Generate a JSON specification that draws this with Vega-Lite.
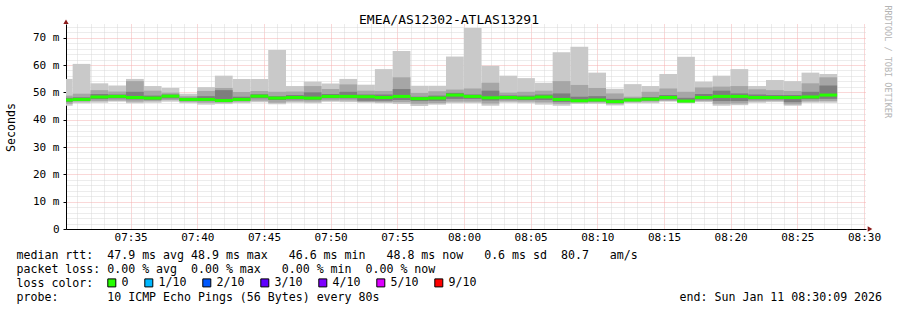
{
  "$schema": "https://vega.github.io/schema/vega-lite/v6.json",
  "width": 800,
  "height": 205,
  "autosize": {"type": "none"},
  "padding": {"left": 66, "top": 24, "right": 31, "bottom": 81},
  "background": "#ffffff",
  "title": {"text": "EMEA/AS12302-ATLAS13291", "font": "DejaVu Sans Mono", "fontSize": 13, "fontWeight": "normal", "color": "#000000", "anchor": "middle", "frame": "group", "dx": -17, "dy": 32, "baseline": "alphabetic", "offset": 0},
  "config": {
    "view": {"stroke": null},
    "axis": {"labelFont": "DejaVu Sans Mono", "labelFontSize": 11, "labelColor": "#000000", "titleFont": "DejaVu Sans Mono", "titleFontWeight": "normal", "titleColor": "#000000", "domainColor": "#000000"}
  },
  "data": {"values": [
    {"t0": "2026-01-11T07:29:19", "t1": "2026-01-11T07:30:39", "tc": "2026-01-11T07:29:59", "mn": 45.1, "lo2": 45.8, "lo3": 46.5, "med": 47.2, "hi3": 48.0, "hi2": 48.8, "mx": 54.9, "loss": "0"},
    {"t0": "2026-01-11T07:30:39", "t1": "2026-01-11T07:31:59", "tc": "2026-01-11T07:31:19", "mn": 46.0, "lo2": 46.6, "lo3": 47.0, "med": 47.4, "hi3": 48.2, "hi2": 49.5, "mx": 60.4, "loss": "0"},
    {"t0": "2026-01-11T07:31:59", "t1": "2026-01-11T07:33:19", "tc": "2026-01-11T07:32:39", "mn": 46.2, "lo2": 46.8, "lo3": 47.5, "med": 48.3, "hi3": 49.4, "hi2": 50.8, "mx": 53.3, "loss": "0"},
    {"t0": "2026-01-11T07:33:19", "t1": "2026-01-11T07:34:39", "tc": "2026-01-11T07:33:59", "mn": 46.6, "lo2": 47.0, "lo3": 47.8, "med": 48.5, "hi3": 49.2, "hi2": 50.3, "mx": 52.5, "loss": "0"},
    {"t0": "2026-01-11T07:34:39", "t1": "2026-01-11T07:35:59", "tc": "2026-01-11T07:35:19", "mn": 46.0, "lo2": 46.6, "lo3": 47.4, "med": 48.1, "hi3": 50.2, "hi2": 54.1, "mx": 54.9, "loss": "0"},
    {"t0": "2026-01-11T07:35:59", "t1": "2026-01-11T07:37:19", "tc": "2026-01-11T07:36:39", "mn": 46.2, "lo2": 46.8, "lo3": 47.3, "med": 47.9, "hi3": 48.8, "hi2": 50.6, "mx": 52.3, "loss": "0"},
    {"t0": "2026-01-11T07:37:19", "t1": "2026-01-11T07:38:39", "tc": "2026-01-11T07:37:59", "mn": 46.6, "lo2": 47.2, "lo3": 47.8, "med": 48.6, "hi3": 49.2, "hi2": 49.9, "mx": 51.6, "loss": "0"},
    {"t0": "2026-01-11T07:38:39", "t1": "2026-01-11T07:39:59", "tc": "2026-01-11T07:39:19", "mn": 46.0, "lo2": 46.5, "lo3": 46.9, "med": 47.4, "hi3": 48.0, "hi2": 48.6, "mx": 49.5, "loss": "0"},
    {"t0": "2026-01-11T07:39:59", "t1": "2026-01-11T07:41:19", "tc": "2026-01-11T07:40:39", "mn": 45.5, "lo2": 46.2, "lo3": 46.8, "med": 47.4, "hi3": 48.6, "hi2": 50.5, "mx": 51.9, "loss": "0"},
    {"t0": "2026-01-11T07:41:19", "t1": "2026-01-11T07:42:39", "tc": "2026-01-11T07:41:59", "mn": 45.7, "lo2": 46.2, "lo3": 46.5, "med": 47.0, "hi3": 50.8, "hi2": 51.6, "mx": 56.1, "loss": "0"},
    {"t0": "2026-01-11T07:42:39", "t1": "2026-01-11T07:43:59", "tc": "2026-01-11T07:43:19", "mn": 46.0, "lo2": 46.6, "lo3": 47.0, "med": 47.4, "hi3": 48.4, "hi2": 50.1, "mx": 54.9, "loss": "0"},
    {"t0": "2026-01-11T07:43:59", "t1": "2026-01-11T07:45:19", "tc": "2026-01-11T07:44:39", "mn": 46.4, "lo2": 46.9, "lo3": 47.8, "med": 48.6, "hi3": 49.3, "hi2": 50.5, "mx": 54.9, "loss": "0"},
    {"t0": "2026-01-11T07:45:19", "t1": "2026-01-11T07:46:39", "tc": "2026-01-11T07:45:59", "mn": 45.6, "lo2": 46.2, "lo3": 47.2, "med": 47.9, "hi3": 48.6, "hi2": 50.2, "mx": 65.5, "loss": "0"},
    {"t0": "2026-01-11T07:46:39", "t1": "2026-01-11T07:47:59", "tc": "2026-01-11T07:47:19", "mn": 46.2, "lo2": 46.7, "lo3": 47.4, "med": 48.1, "hi3": 49.0, "hi2": 50.3, "mx": 52.3, "loss": "0"},
    {"t0": "2026-01-11T07:47:59", "t1": "2026-01-11T07:49:19", "tc": "2026-01-11T07:48:39", "mn": 46.0, "lo2": 46.6, "lo3": 47.3, "med": 47.9, "hi3": 50.0, "hi2": 52.3, "mx": 53.9, "loss": "0"},
    {"t0": "2026-01-11T07:49:19", "t1": "2026-01-11T07:50:39", "tc": "2026-01-11T07:49:59", "mn": 46.6, "lo2": 47.0, "lo3": 47.8, "med": 48.5, "hi3": 49.4, "hi2": 51.2, "mx": 53.2, "loss": "0"},
    {"t0": "2026-01-11T07:50:39", "t1": "2026-01-11T07:51:59", "tc": "2026-01-11T07:51:19", "mn": 46.4, "lo2": 47.0, "lo3": 47.8, "med": 48.5, "hi3": 50.2, "hi2": 52.9, "mx": 54.9, "loss": "0"},
    {"t0": "2026-01-11T07:51:59", "t1": "2026-01-11T07:53:19", "tc": "2026-01-11T07:52:39", "mn": 46.2, "lo2": 46.5, "lo3": 46.9, "med": 48.4, "hi3": 49.2, "hi2": 50.6, "mx": 52.8, "loss": "0"},
    {"t0": "2026-01-11T07:53:19", "t1": "2026-01-11T07:54:39", "tc": "2026-01-11T07:53:59", "mn": 46.0, "lo2": 46.4, "lo3": 46.9, "med": 48.1, "hi3": 49.2, "hi2": 50.5, "mx": 58.5, "loss": "0"},
    {"t0": "2026-01-11T07:54:39", "t1": "2026-01-11T07:55:59", "tc": "2026-01-11T07:55:19", "mn": 45.7, "lo2": 46.4, "lo3": 47.2, "med": 48.5, "hi3": 51.2, "hi2": 55.5, "mx": 65.1, "loss": "0"},
    {"t0": "2026-01-11T07:55:59", "t1": "2026-01-11T07:57:19", "tc": "2026-01-11T07:56:39", "mn": 45.0, "lo2": 45.8, "lo3": 46.8, "med": 47.7, "hi3": 48.4, "hi2": 49.8, "mx": 52.4, "loss": "0"},
    {"t0": "2026-01-11T07:57:19", "t1": "2026-01-11T07:58:39", "tc": "2026-01-11T07:57:59", "mn": 45.5, "lo2": 46.0, "lo3": 46.9, "med": 47.9, "hi3": 48.8, "hi2": 50.4, "mx": 52.4, "loss": "0"},
    {"t0": "2026-01-11T07:58:39", "t1": "2026-01-11T07:59:59", "tc": "2026-01-11T07:59:19", "mn": 46.0, "lo2": 46.6, "lo3": 47.6, "med": 49.0, "hi3": 49.8, "hi2": 51.0, "mx": 63.1, "loss": "0"},
    {"t0": "2026-01-11T07:59:59", "t1": "2026-01-11T08:01:19", "tc": "2026-01-11T08:00:39", "mn": 46.0, "lo2": 46.6, "lo3": 47.6, "med": 48.5, "hi3": 49.2, "hi2": 51.4, "mx": 73.5, "loss": "0"},
    {"t0": "2026-01-11T08:01:19", "t1": "2026-01-11T08:02:39", "tc": "2026-01-11T08:01:59", "mn": 45.1, "lo2": 45.9, "lo3": 47.0, "med": 48.0, "hi3": 50.6, "hi2": 53.5, "mx": 59.7, "loss": "0"},
    {"t0": "2026-01-11T08:02:39", "t1": "2026-01-11T08:03:59", "tc": "2026-01-11T08:03:19", "mn": 46.2, "lo2": 46.7, "lo3": 47.4, "med": 48.1, "hi3": 48.9, "hi2": 49.9, "mx": 56.1, "loss": "0"},
    {"t0": "2026-01-11T08:03:59", "t1": "2026-01-11T08:05:19", "tc": "2026-01-11T08:04:39", "mn": 46.0, "lo2": 46.6, "lo3": 47.2, "med": 47.9, "hi3": 48.8, "hi2": 50.2, "mx": 55.2, "loss": "0"},
    {"t0": "2026-01-11T08:05:19", "t1": "2026-01-11T08:06:39", "tc": "2026-01-11T08:05:59", "mn": 45.5, "lo2": 46.3, "lo3": 47.2, "med": 48.3, "hi3": 49.2, "hi2": 50.6, "mx": 53.5, "loss": "0"},
    {"t0": "2026-01-11T08:06:39", "t1": "2026-01-11T08:07:59", "tc": "2026-01-11T08:07:19", "mn": 45.1, "lo2": 45.8, "lo3": 46.5, "med": 47.4, "hi3": 49.6, "hi2": 54.1, "mx": 64.7, "loss": "0"},
    {"t0": "2026-01-11T08:07:59", "t1": "2026-01-11T08:09:19", "tc": "2026-01-11T08:08:39", "mn": 45.7, "lo2": 46.2, "lo3": 46.6, "med": 46.9, "hi3": 48.4, "hi2": 52.7, "mx": 66.7, "loss": "0"},
    {"t0": "2026-01-11T08:09:19", "t1": "2026-01-11T08:10:39", "tc": "2026-01-11T08:09:59", "mn": 45.8, "lo2": 46.3, "lo3": 46.7, "med": 47.2, "hi3": 48.6, "hi2": 51.6, "mx": 57.2, "loss": "0"},
    {"t0": "2026-01-11T08:10:39", "t1": "2026-01-11T08:11:59", "tc": "2026-01-11T08:11:19", "mn": 45.2, "lo2": 45.7, "lo3": 46.1, "med": 46.6, "hi3": 47.6, "hi2": 49.6, "mx": 51.3, "loss": "0"},
    {"t0": "2026-01-11T08:11:59", "t1": "2026-01-11T08:13:19", "tc": "2026-01-11T08:12:39", "mn": 46.0, "lo2": 46.4, "lo3": 46.8, "med": 47.2, "hi3": 47.8, "hi2": 48.4, "mx": 53.0, "loss": "0"},
    {"t0": "2026-01-11T08:13:19", "t1": "2026-01-11T08:14:39", "tc": "2026-01-11T08:13:59", "mn": 46.0, "lo2": 46.6, "lo3": 47.0, "med": 47.5, "hi3": 48.3, "hi2": 50.2, "mx": 52.3, "loss": "0"},
    {"t0": "2026-01-11T08:14:39", "t1": "2026-01-11T08:15:59", "tc": "2026-01-11T08:15:19", "mn": 46.6, "lo2": 46.9, "lo3": 47.4, "med": 48.1, "hi3": 49.0, "hi2": 51.4, "mx": 56.7, "loss": "0"},
    {"t0": "2026-01-11T08:15:59", "t1": "2026-01-11T08:17:19", "tc": "2026-01-11T08:16:39", "mn": 46.0, "lo2": 46.3, "lo3": 46.6, "med": 46.8, "hi3": 48.0, "hi2": 50.2, "mx": 63.0, "loss": "0"},
    {"t0": "2026-01-11T08:17:19", "t1": "2026-01-11T08:18:39", "tc": "2026-01-11T08:17:59", "mn": 46.4, "lo2": 46.8, "lo3": 47.4, "med": 48.1, "hi3": 49.4, "hi2": 51.8, "mx": 53.9, "loss": "0"},
    {"t0": "2026-01-11T08:18:39", "t1": "2026-01-11T08:19:59", "tc": "2026-01-11T08:19:19", "mn": 45.1, "lo2": 45.8, "lo3": 46.8, "med": 48.5, "hi3": 50.6, "hi2": 52.1, "mx": 56.1, "loss": "0"},
    {"t0": "2026-01-11T08:19:59", "t1": "2026-01-11T08:21:19", "tc": "2026-01-11T08:20:39", "mn": 45.3, "lo2": 45.9, "lo3": 46.8, "med": 48.5, "hi3": 49.6, "hi2": 52.3, "mx": 58.5, "loss": "0"},
    {"t0": "2026-01-11T08:21:19", "t1": "2026-01-11T08:22:39", "tc": "2026-01-11T08:21:59", "mn": 46.2, "lo2": 46.7, "lo3": 47.4, "med": 48.1, "hi3": 49.2, "hi2": 51.1, "mx": 52.3, "loss": "0"},
    {"t0": "2026-01-11T08:22:39", "t1": "2026-01-11T08:23:59", "tc": "2026-01-11T08:23:19", "mn": 46.4, "lo2": 46.9, "lo3": 47.4, "med": 48.1, "hi3": 49.0, "hi2": 50.8, "mx": 54.5, "loss": "0"},
    {"t0": "2026-01-11T08:23:59", "t1": "2026-01-11T08:25:19", "tc": "2026-01-11T08:24:39", "mn": 45.1, "lo2": 45.6, "lo3": 46.4, "med": 48.1, "hi3": 49.0, "hi2": 50.5, "mx": 54.1, "loss": "0"},
    {"t0": "2026-01-11T08:25:19", "t1": "2026-01-11T08:26:39", "tc": "2026-01-11T08:25:59", "mn": 46.2, "lo2": 46.7, "lo3": 47.5, "med": 48.3, "hi3": 50.2, "hi2": 53.3, "mx": 57.2, "loss": "0"},
    {"t0": "2026-01-11T08:26:39", "t1": "2026-01-11T08:27:59", "tc": "2026-01-11T08:27:19", "mn": 46.2, "lo2": 46.8, "lo3": 47.6, "med": 49.0, "hi3": 52.5, "hi2": 55.5, "mx": 56.7, "loss": "0"}
  ]},
  "resolve": {"axis": {"y": "independent"}},
  "layer": [
    {
      "mark": {"type": "rect", "color": "#c9c9c9", "clip": true},
      "encoding": {
        "x": {"field": "t0", "type": "temporal",
          "scale": {"domain": [{"year": 2026, "month": 1, "date": 11, "hours": 7, "minutes": 30, "seconds": 9}, {"year": 2026, "month": 1, "date": 11, "hours": 8, "minutes": 30, "seconds": 9}], "nice": false},
          "axis": {"orient": "bottom", "tickCount": 60,
            "labelExpr": "minutes(datum.value) % 5 === 0 ? timeFormat(datum.value, '%H:%M') : ''",
            "labelOverlap": false, "labelFlush": false, "labelBound": false, "labelPadding": 2, "labelFontSize": 11,
            "ticks": false, "grid": true,
            "gridColor": {"condition": {"test": "minutes(datum.value) % 5 === 0", "value": "#f5b0b0"}, "value": "#d8d8d8"},
            "gridDash": [1, 1], "gridWidth": 1, "domainColor": "#000000",
            "title": ["median rtt:\u00a0\u00a047.9 ms avg 48.9 ms max\u00a0\u00a0\u00a046.6 ms min\u00a0\u00a0\u00a048.8 ms now\u00a0\u00a0\u00a00.6 ms sd\u00a0\u00a080.7\u00a0\u00a0\u00a0am/s",
                      "packet loss: 0.00 % avg\u00a0\u00a00.00 % max\u00a0\u00a0\u00a00.00 % min\u00a0\u00a00.00 % now",
                      "loss color:",
                      "probe:\u00a0\u00a0\u00a0\u00a0\u00a0\u00a0\u00a010 ICMP Echo Pings (56 Bytes) every 80s\u00a0\u00a0\u00a0\u00a0\u00a0\u00a0\u00a0\u00a0\u00a0\u00a0\u00a0\u00a0\u00a0\u00a0\u00a0\u00a0\u00a0\u00a0\u00a0\u00a0\u00a0\u00a0\u00a0\u00a0\u00a0\u00a0\u00a0\u00a0\u00a0\u00a0\u00a0\u00a0\u00a0\u00a0\u00a0\u00a0\u00a0\u00a0\u00a0\u00a0\u00a0\u00a0\u00a0end: Sun Jan 11 08:30:09 2026"],
            "titleAnchor": "start", "titleAlign": "left", "titleBaseline": "alphabetic", "titleX": -50, "titleY": 29, "titleLineHeight": 14, "titleFontSize": 11.6}},
        "x2": {"field": "t1"},
        "y": {"field": "mn", "type": "quantitative", "scale": {"domain": [0, 75], "nice": false, "zero": true},
          "axis": {"orient": "left", "values": [0,2,4,6,8,10,12,14,16,18,20,22,24,26,28,30,32,34,36,38,40,42,44,46,48,50,52,54,56,58,60,62,64,66,68,70,72,74],
            "labelExpr": "abs(datum.value - 10 * round(datum.value / 10)) < 0.01 ? (datum.value < 0.01 ? '0\u00a0\u00a0' : format(datum.value, 'd') + ' m') : ''",
            "labelOverlap": false, "labelPadding": 4, "labelFontSize": 11, "tickSize": 3,
            "tickColor": {"condition": {"test": "abs(datum.value - 10 * round(datum.value / 10)) < 0.01", "value": "#000000"}, "value": "#ffffff"},
            "grid": true,
            "gridColor": {"condition": {"test": "abs(datum.value - 10 * round(datum.value / 10)) < 0.01", "value": "#f5b0b0"}, "value": "#d8d8d8"},
            "gridDash": [1, 1], "gridWidth": 1, "domainColor": "#000000",
            "title": "Seconds", "titleFontSize": 11.6, "titleX": -55, "titleY": 103, "titleAngle": 270, "titleAlign": "center", "titleBaseline": "middle"}},
        "y2": {"field": "mx"}
      }
    },
    {
      "mark": {"type": "rect", "color": "#a6a6a6", "clip": true},
      "encoding": {
        "x": {"field": "t0", "type": "temporal"},
        "x2": {"field": "t1"},
        "y": {"field": "lo2", "type": "quantitative", "axis": null},
        "y2": {"field": "hi2"}
      }
    },
    {
      "mark": {"type": "rect", "color": "#7e7e7e", "clip": true},
      "encoding": {
        "x": {"field": "t0", "type": "temporal"},
        "x2": {"field": "t1"},
        "y": {"field": "lo3", "type": "quantitative", "axis": null},
        "y2": {"field": "hi3"}
      }
    },
    {
      "mark": {"type": "tick", "orient": "horizontal", "thickness": 3, "size": 17.8, "opacity": 1, "clip": true},
      "encoding": {
        "x": {"field": "tc", "type": "temporal"},
        "y": {"field": "med", "type": "quantitative",
          "axis": {"orient": "right", "labels": false, "ticks": false, "domain": false, "grid": false,
            "title": "RRDTOOL / TOBI OETIKER", "titleFontSize": 8.5, "titleColor": "#b4b4b4", "titleAngle": 90,
            "titleX": 21, "titleY": -19, "titleAlign": "left", "titleBaseline": "middle"}},
        "color": {"field": "loss", "type": "nominal",
          "scale": {"domain": ["0", "1/10", "2/10", "3/10", "4/10", "5/10", "9/10"], "range": ["#26ff00", "#00b8ff", "#0059ff", "#5e00ff", "#7e00ff", "#dd00ff", "#ff0000"]},
          "legend": {"orient": "none", "legendX": 40, "legendY": 253, "direction": "horizontal", "columns": 7, "title": null,
            "labelFont": "DejaVu Sans Mono", "labelFontSize": 11.6, "labelColor": "#000000", "labelOffset": 4,
            "symbolType": "square", "symbolSize": 64, "symbolStrokeColor": "#000000", "symbolStrokeWidth": 1, "symbolOpacity": 1, "columnPadding": 13, "padding": 0}}
      }
    },
    {
      "data": {"values": [{"t0": "2026-01-11T08:30:27", "v": 0}]},
      "mark": {"type": "point", "filled": true, "shape": "triangle-right", "color": "#8b1a1a", "size": 28, "opacity": 1, "clip": false},
      "encoding": {
        "x": {"field": "t0", "type": "temporal"},
        "y": {"field": "v", "type": "quantitative", "axis": null}
      }
    },
    {
      "data": {"values": [{"t0": "2026-01-11T07:30:09", "v": 75.8}]},
      "mark": {"type": "point", "filled": true, "shape": "triangle-up", "color": "#8b1a1a", "size": 28, "opacity": 1, "clip": false},
      "encoding": {
        "x": {"field": "t0", "type": "temporal"},
        "y": {"field": "v", "type": "quantitative", "axis": null}
      }
    }
  ]
}
